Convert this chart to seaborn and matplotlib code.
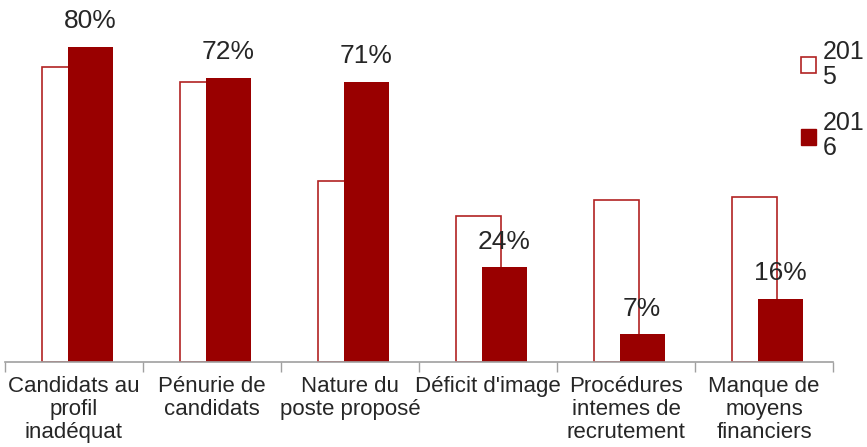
import numpy as np
import pandas as pd
import matplotlib.pyplot as plt
import seaborn as sns
from matplotlib.patches import Patch

# chart data
categories = ["Candidats au\nprofil\ninadéquat", "Pénurie de\ncandidats", "Nature du\nposte proposé",
              "Déficit d'image", "Procédures\nintemes de\nrecrutement", "Manque de\nmoyens\nfinanciers"]
values_2015 = [75, 71, 46, 37, 41, 42]
values_2016 = [80, 72, 71, 24, 7, 16]
legend_labels = ["201\n5", "201\n6"]

red = "#990000"
edge_red = "#b22222"

sns.set_style("white")
plt.rcParams['font.family'] = ['Liberation Sans', 'DejaVu Sans']

df = pd.DataFrame({'cat': categories, 'y2015': values_2015, 'y2016': values_2016})

fig = plt.figure(figsize=(8.67, 4.47), dpi=100)
ax = fig.add_axes([5 / 867, 85 / 447, 828 / 867, 362 / 447])

# 2015 bars: outline only, sit behind and left of the 2016 bars
sns.barplot(data=df, x='cat', y='y2015', color='white', edgecolor=edge_red, linewidth=1.2,
            width=0.326, saturation=1, ax=ax)
for p in ax.patches:
    p.set_x(p.get_x() - 0.069)
n_first = len(ax.patches)

sns.barplot(data=df, x='cat', y='y2016', color=red, edgecolor=red, linewidth=0,
            width=0.326, saturation=1, ax=ax)
for p in ax.patches[n_first:]:
    p.set_x(p.get_x() + 0.116)

ax.bar_label(ax.containers[1], labels=[f"{v}%" for v in values_2016], padding=10, fontsize=19)

ax.set_xlim(-0.5, 5.5)
ax.set_ylim(0, 91.9)
ax.set_xlabel('')
ax.set_ylabel('')
ax.set_yticks([])

# boundary ticks as majors, labels on minors
ax.set_xticks(np.arange(-0.5, 6, 1))
ax.set_xticklabels([])
ax.set_xticks(np.arange(6), minor=True)
ax.set_xticklabels(categories, minor=True, fontsize=16, linespacing=1.12)
ax.tick_params(axis='x', which='major', length=7, color='#a0a0a0', width=1, bottom=True)
ax.tick_params(axis='x', which='minor', length=0, pad=10)

for s in ['top', 'right', 'left']:
    ax.spines[s].set_visible(False)
ax.spines['bottom'].set_color('#a0a0a0')
ax.spines['bottom'].set_linewidth(1.2)

handles = [Patch(facecolor='white', edgecolor=edge_red, linewidth=1.2, label=legend_labels[0]),
           Patch(facecolor=red, edgecolor=red, label=legend_labels[1])]
leg = fig.legend(handles=handles, loc='upper left', bbox_to_anchor=(801 / 867, 1 - 40 / 447),
                 frameon=False, fontsize=18, handlelength=0.6, handleheight=0.6,
                 handletextpad=0.25, labelspacing=0.9, borderaxespad=0, borderpad=0)
for t in leg.get_texts():
    t.set_linespacing(1.05)

fig.savefig('out.png', dpi=100)
